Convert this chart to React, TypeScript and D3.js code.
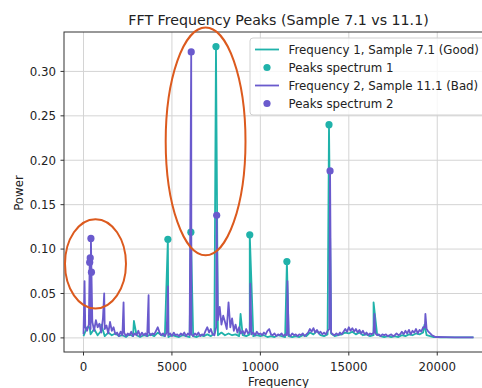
import React from "react";
import * as d3 from "d3";

// ---------- DATA ----------
const binWidth = 100; // Hz between noise-floor samples of spectrum 2
const tealBinWidth = 200; // Hz between noise-floor samples of spectrum 1

// Spectrum 2 (Sample 11.1, Bad) noise floor, 0..20000 Hz
const purpleNoise = [
  0.004, 0.012, 0.008, 0.015, 0.010,
  0.018, 0.008, 0.020, 0.012, 0.016, 0.006, 0.022, 0.010, 0.014, 0.005, 0.018, 0.008, 0.012, 0.004,
  0.006, 0.002, 0.007, 0.003, 0.006, 0.002, 0.005, 0.003, 0.007, 0.002,
  0.005, 0.003, 0.008, 0.002, 0.006, 0.003, 0.005, 0.002,
  0.006, 0.003, 0.005, 0.004, 0.008, 0.012, 0.006, 0.003, 0.005,
  0.002, 0.006, 0.003, 0.005, 0.002, 0.006, 0.003, 0.004, 0.002, 0.005, 0.003, 0.006, 0.002, 0.005, 0.003,
  0.004, 0.002, 0.005, 0.003, 0.006, 0.002, 0.004, 0.003, 0.008, 0.012, 0.006, 0.010, 0.004, 0.003,
  0.012, 0.020, 0.035, 0.015, 0.025, 0.018, 0.010, 0.040, 0.012, 0.022, 0.008, 0.015, 0.006, 0.012, 0.005,
  0.008, 0.004, 0.010, 0.005, 0.007, 0.004, 0.006, 0.003, 0.007, 0.004, 0.005, 0.003, 0.006, 0.004, 0.008, 0.010, 0.004,
  0.003, 0.005, 0.002, 0.004, 0.003, 0.005, 0.002, 0.004, 0.003, 0.004, 0.002, 0.005, 0.003, 0.004, 0.002, 0.004, 0.003, 0.005, 0.002, 0.004, 0.006,
  0.010, 0.007, 0.011, 0.006, 0.009, 0.005, 0.007, 0.004, 0.006, 0.004, 0.008,
  0.010, 0.006, 0.004, 0.003, 0.005, 0.003, 0.006, 0.004, 0.007,
  0.010, 0.007, 0.012, 0.008, 0.011, 0.007, 0.010, 0.006, 0.009, 0.005, 0.008, 0.004, 0.006, 0.003, 0.005, 0.004,
  0.006, 0.005, 0.003, 0.004, 0.002, 0.004, 0.003, 0.004, 0.002, 0.003, 0.004, 0.002, 0.003, 0.005, 0.003, 0.004,
  0.007, 0.004, 0.008, 0.005, 0.009, 0.004, 0.008, 0.006, 0.010, 0.005, 0.009, 0.007, 0.012,
  0.012, 0.010, 0.007, 0.005, 0.003, 0.002, 0.001, 0.001,
];
const purpleTailFreqs = [20500, 21000, 21500, 22050];
const purpleTailPower = [0.0008, 0.0005, 0.0005, 0.0005];
const purpleSpikeFreqs = [60, 350, 380, 420, 450, 1170, 2265, 3680, 4780, 6090, 7530, 9430, 11530, 13940, 16450, 19330];
const purpleSpikePower = [0.064, 0.085, 0.090, 0.112, 0.074, 0.050, 0.040, 0.048, 0.058, 0.322, 0.138, 0.061, 0.064, 0.188, 0.027, 0.027];

// Spectrum 1 (Sample 7.1, Good) noise floor, 0..22000 Hz
const tealNoise = [
  0.002, 0.012, 0.004, 0.010, 0.003, 0.008, 0.002, 0.006, 0.003, 0.005, 0.002,
  0.003, 0.001, 0.004, 0.002, 0.003, 0.001, 0.003, 0.002, 0.004, 0.002,
  0.006, 0.003, 0.002, 0.001, 0.003, 0.002, 0.001, 0.003, 0.002, 0.001,
  0.002, 0.001, 0.003, 0.002, 0.004, 0.002, 0.005, 0.003, 0.006, 0.003,
  0.005, 0.003, 0.004, 0.002, 0.003, 0.002, 0.004, 0.002, 0.003, 0.002,
  0.003, 0.001, 0.002, 0.001, 0.003, 0.002, 0.001, 0.002, 0.001, 0.002,
  0.001, 0.003, 0.002, 0.006, 0.004, 0.008, 0.003, 0.002, 0.004, 0.005,
  0.002, 0.003, 0.004, 0.006, 0.005, 0.007, 0.004, 0.006, 0.003, 0.004,
  0.002, 0.003, 0.004, 0.002, 0.001, 0.002, 0.001, 0.002, 0.001, 0.003,
  0.002, 0.004, 0.003, 0.005, 0.004, 0.006, 0.003, 0.002, 0.001, 0.001,
  0.0005, 0.0005, 0.0005, 0.0005, 0.0005, 0.0005, 0.0005, 0.0005, 0.0005, 0.0005,
];
const tealTailFreqs = [22050];
const tealTailPower = [0.0005];
const tealSpikeFreqs = [350, 1000, 2850, 4770, 6070, 7490, 8880, 9400, 11500, 13880, 16400, 19280];
const tealSpikePower = [0.012, 0.015, 0.019, 0.111, 0.119, 0.328, 0.027, 0.116, 0.086, 0.240, 0.040, 0.015];

// Detected peaks
const peaks1Freqs = [4770, 6070, 7490, 9400, 11500, 13880];
const peaks1Power = [0.111, 0.119, 0.328, 0.116, 0.086, 0.240];
const peaks2Freqs = [350, 380, 420, 450, 6090, 7530, 13940];
const peaks2Power = [0.085, 0.090, 0.112, 0.074, 0.322, 0.138, 0.188];

// Annotation ellipses (data coords: centre freq, centre power, radius freq, radius power)
const ellipseCx = [678, 6903];
const ellipseCy = [0.0834, 0.2212];
const ellipseRx = [1724, 2256];
const ellipseRy = [0.0503, 0.1282];

const xTicks = [0, 5000, 10000, 15000, 20000];
const yTicks = [0, 0.05, 0.1, 0.15, 0.2, 0.25, 0.3];

const title = "FFT Frequency Peaks (Sample 7.1 vs 11.1)";
const legendLabels = [
  "Frequency 1, Sample 7.1 (Good)",
  "Peaks spectrum 1",
  "Frequency 2, Sample 11.1 (Bad)",
  "Peaks spectrum 2",
];

// ---------- HELPERS ----------
type P = [number, number];
function buildSeries(noise: number[], step: number, tailF: number[], tailP: number[], spF: number[], spP: number[]): P[] {
  const pts: P[] = noise.map((v, i) => [i * step, v] as P);
  tailF.forEach((f, i) => pts.push([f, tailP[i]]));
  spF.forEach((f, i) => pts.push([f, spP[i]]));
  pts.sort((a, b) => a[0] - b[0]);
  return pts;
}

const teal = "#20b2aa";
const purple = "#6a5acd";
const font = "'DejaVu Sans', sans-serif";

export default function App() {
  const W = 482, H = 388;
  const left = 64, right = 493, top = 32, bottom = 352;

  const s1 = buildSeries(tealNoise, tealBinWidth, tealTailFreqs, tealTailPower, tealSpikeFreqs, tealSpikePower);
  const s2 = buildSeries(purpleNoise, binWidth, purpleTailFreqs, purpleTailPower, purpleSpikeFreqs, purpleSpikePower);
  const all = s1.concat(s2);
  const [xmin, xmax] = d3.extent(all, (d) => d[0]) as [number, number];
  const [ymin, ymax] = d3.extent(all, (d) => d[1]) as [number, number];
  const xr = xmax - xmin, yr = ymax - ymin;

  const x = d3.scaleLinear().domain([xmin - 0.05 * xr, xmax + 0.05 * xr]).range([left, right]);
  const y = d3.scaleLinear().domain([ymin - 0.05 * yr, ymax + 0.05 * yr]).range([bottom, top]);

  const line = d3.line<P>().x((d) => x(d[0])).y((d) => y(d[1]));

  const fs = 11.8;
  const legX = 250, legY = 38, legW = 237, legH = 77;
  const rowY = [49.5, 67.5, 85.5, 103.5];
  const lw = 1.8;

  return (
    <svg width={W} height={H} style={{ position: "absolute", left: 0, top: 0, background: "#fff" }} fontFamily={font}>
      <rect x={0} y={0} width={W} height={H} fill="#fff" />
      {/* grid */}
      {xTicks.map((t) => (
        <line key={"gx" + t} x1={x(t)} x2={x(t)} y1={top} y2={bottom} stroke="#d4d4d4" strokeWidth={1} />
      ))}
      {yTicks.map((t) => (
        <line key={"gy" + t} x1={left} x2={right} y1={y(t)} y2={y(t)} stroke="#d4d4d4" strokeWidth={1} />
      ))}

      {/* data */}
      <path d={line(s1) || ""} fill="none" stroke={teal} strokeWidth={lw} strokeLinejoin="round" />
      {peaks1Freqs.map((f, i) => (
        <circle key={"p1" + i} cx={x(f)} cy={y(peaks1Power[i])} r={3.6} fill={teal} />
      ))}
      <path d={line(s2) || ""} fill="none" stroke={purple} strokeWidth={lw} strokeLinejoin="round" />
      {peaks2Freqs.map((f, i) => (
        <circle key={"p2" + i} cx={x(f)} cy={y(peaks2Power[i])} r={3.6} fill={purple} />
      ))}

      {/* spines */}
      <rect x={left} y={top} width={right - left} height={bottom - top} fill="none" stroke="#333" strokeWidth={1} />

      {/* ticks */}
      {xTicks.map((t) => (
        <g key={"xt" + t}>
          <line x1={x(t)} x2={x(t)} y1={bottom} y2={bottom + 3.5} stroke="#333" />
          <text x={x(t)} y={370.5} textAnchor="middle" fontSize={fs} fill="#222">{String(t)}</text>
        </g>
      ))}
      {yTicks.map((t) => (
        <g key={"yt" + t}>
          <line x1={left - 3.5} x2={left} y1={y(t)} y2={y(t)} stroke="#333" />
          <text x={56} y={y(t) + 4.3} textAnchor="end" fontSize={fs} fill="#222">{t.toFixed(2)}</text>
        </g>
      ))}

      {/* labels */}
      <text x={(left + right) / 2} y={25} textAnchor="middle" fontSize={14.2} fill="#222">{title}</text>
      <text x={(left + right) / 2} y={386} textAnchor="middle" fontSize={fs} fill="#222">Frequency</text>
      <text transform={`translate(23,193) rotate(-90)`} textAnchor="middle" fontSize={fs} fill="#222">Power</text>

      {/* annotation ellipses */}
      {ellipseCx.map((cx, i) => (
        <ellipse
          key={"el" + i}
          cx={x(cx)}
          cy={y(ellipseCy[i])}
          rx={x(cx + ellipseRx[i]) - x(cx)}
          ry={y(0) - y(ellipseRy[i])}
          fill="none"
          stroke="#dc5a1e"
          strokeWidth={2}
        />
      ))}

      {/* legend */}
      <rect x={legX} y={legY} width={legW} height={legH} rx={3} fill="#fff" fillOpacity={0.8} stroke="#d0d0d0" strokeWidth={1} />
      <line x1={255} x2={279} y1={rowY[0]} y2={rowY[0]} stroke={teal} strokeWidth={lw} />
      <circle cx={267} cy={rowY[1]} r={3.6} fill={teal} />
      <line x1={255} x2={279} y1={rowY[2]} y2={rowY[2]} stroke={purple} strokeWidth={lw} />
      <circle cx={267} cy={rowY[3]} r={3.6} fill={purple} />
      {legendLabels.map((l, i) => (
        <text key={"lg" + i} x={288.5} y={rowY[i] + 4.3} fontSize={fs} fill="#222">{l}</text>
      ))}
    </svg>
  );
}
